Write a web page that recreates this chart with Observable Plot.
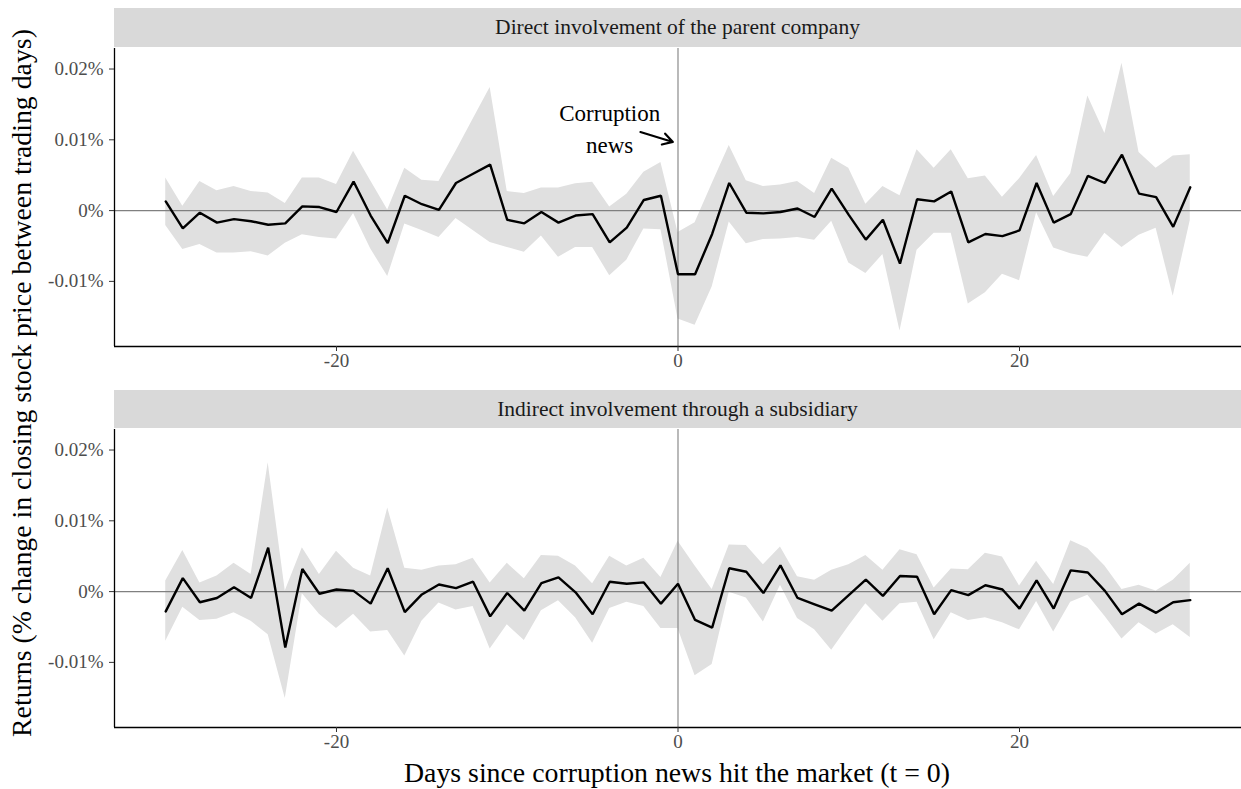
<!DOCTYPE html>
<html>
<head>
<meta charset="utf-8">
<script src="https://cdn.jsdelivr.net/npm/d3@7"></script>
<script src="https://cdn.jsdelivr.net/npm/@observablehq/plot@0.6"></script>
<style>
  html, body { margin: 0; padding: 0; background: #ffffff; }
  #wrap { position: relative; width: 1241px; height: 789px; font-family: "Liberation Serif", "DejaVu Serif", serif; color: #000; }
  .strip { position: absolute; left: 114px; width: 1127px; background: #d9d9d9; color: #1a1a1a;
           font-size: 21.5px; display: flex; align-items: center; justify-content: center; }
  .panel { position: absolute; left: 0; }
  #ytitle { position: absolute; left: 22px; top: 383px; transform: translate(-50%, -50%) rotate(-90deg);
            white-space: nowrap; font-size: 27.8px; }
  #xtitle { position: absolute; left: 677px; top: 773px; transform: translate(-50%, -50%);
            white-space: nowrap; font-size: 27.8px; }
</style>
</head>
<body>
<div id="wrap">
  <div class="strip" id="strip1" style="top:8px;height:39px;"></div>
  <div class="panel" id="panel1" style="top:48px;"></div>
  <div class="strip" id="strip2" style="top:390px;height:38px;"></div>
  <div class="panel" id="panel2" style="top:429px;"></div>
  <div id="ytitle"></div>
  <div id="xtitle"></div>
</div>
<script>
// Trading days relative to the news date
const days = [-30,-29,-28,-27,-26,-25,-24,-23,-22,-21,-20,-19,-18,-17,-16,-15,-14,-13,-12,-11,
  -10,-9,-8,-7,-6,-5,-4,-3,-2,-1,0,1,2,3,4,5,6,7,8,9,10,11,12,13,14,15,16,17,18,19,20,
  21,22,23,24,25,26,27,28,29,30];

// Facet titles
const panelTitles = ["Direct involvement of the parent company", "Indirect involvement through a subsidiary"];

// Direct involvement: estimated return (%) and interval bounds (%)
const directEst = [0.0013,-0.0025,-0.0003,-0.0017,-0.0012,-0.0015,-0.0020,-0.0018,0.0006,0.0005,
  -0.0002,0.0041,-0.0007,-0.0046,0.0021,0.0009,0.0001,0.0039,0.0052,0.0065,
  -0.0013,-0.0018,-0.0002,-0.0017,-0.0007,-0.0005,-0.0045,-0.0024,0.0015,0.0021,
  -0.0090,-0.0090,-0.0033,0.0039,-0.0003,-0.0004,-0.0002,0.0003,-0.0009,0.0031,
  -0.0006,-0.0041,-0.0013,-0.0075,0.0016,0.0013,0.0027,-0.0045,-0.0033,-0.0036,
  -0.0028,0.0039,-0.0017,-0.0005,0.0049,0.0039,0.0079,0.0024,0.0019,-0.0023,0.0033];
const directHi = [0.0046,0.0006,0.0041,0.0028,0.0034,0.0027,0.0025,0.0010,0.0046,0.0046,
  0.0037,0.0084,0.0042,0.0001,0.0060,0.0043,0.0041,0.0084,0.0129,0.0174,
  0.0027,0.0024,0.0032,0.0032,0.0038,0.0040,0.0005,0.0023,0.0054,0.0068,
  -0.0031,-0.0017,0.0038,0.0092,0.0042,0.0034,0.0036,0.0041,0.0024,0.0074,
  0.0060,0.0009,0.0034,0.0021,0.0086,0.0060,0.0086,0.0045,0.0049,0.0019,
  0.0045,0.0078,0.0020,0.0052,0.0162,0.0109,0.0208,0.0082,0.0060,0.0077,0.0079];
const directLo = [-0.0021,-0.0055,-0.0048,-0.0060,-0.0060,-0.0058,-0.0064,-0.0046,-0.0034,-0.0038,
  -0.0040,-0.0004,-0.0054,-0.0093,-0.0019,-0.0028,-0.0038,-0.0011,-0.0028,-0.0045,
  -0.0052,-0.0059,-0.0036,-0.0066,-0.0052,-0.0052,-0.0092,-0.0070,-0.0026,-0.0027,
  -0.0153,-0.0162,-0.0108,-0.0016,-0.0047,-0.0041,-0.0040,-0.0038,-0.0042,-0.0015,
  -0.0074,-0.0089,-0.0062,-0.0170,-0.0056,-0.0032,-0.0032,-0.0132,-0.0116,-0.0090,
  -0.0099,-0.0003,-0.0053,-0.0061,-0.0066,-0.0032,-0.0052,-0.0035,-0.0025,-0.0121,-0.0014];

// Indirect involvement: estimated return (%) and interval bounds (%)
const indirectEst = [-0.0028,0.0019,-0.0015,-0.0009,0.0006,-0.0009,0.0062,-0.0079,0.0032,-0.0003,
  0.0003,0.0001,-0.0017,0.0033,-0.0029,-0.0004,0.0010,0.0005,0.0014,-0.0035,
  -0.0002,-0.0027,0.0012,0.0020,-0.0001,-0.0032,0.0014,0.0011,0.0013,-0.0017,
  0.0011,-0.0040,-0.0051,0.0033,0.0028,-0.0002,0.0037,-0.0009,-0.0018,-0.0027,
  -0.0005,0.0017,-0.0006,0.0022,0.0021,-0.0032,0.0002,-0.0005,0.0009,0.0003,
  -0.0024,0.0016,-0.0024,0.0030,0.0027,0.0001,-0.0032,-0.0017,-0.0030,-0.0015,-0.0012];
const indirectHi = [0.0015,0.0058,0.0012,0.0022,0.0040,0.0024,0.0182,0.0001,0.0062,0.0024,
  0.0057,0.0033,0.0022,0.0118,0.0033,0.0030,0.0036,0.0038,0.0047,0.0012,
  0.0040,0.0018,0.0051,0.0050,0.0036,0.0011,0.0050,0.0036,0.0047,0.0020,
  0.0071,0.0036,0.0003,0.0066,0.0065,0.0038,0.0063,0.0021,0.0016,0.0030,
  0.0038,0.0051,0.0030,0.0059,0.0052,0.0005,0.0032,0.0031,0.0054,0.0049,
  0.0008,0.0043,0.0010,0.0072,0.0061,0.0036,0.0003,0.0009,0.0001,0.0016,0.0040];
const indirectLo = [-0.0070,-0.0022,-0.0041,-0.0039,-0.0030,-0.0042,-0.0061,-0.0151,-0.0003,-0.0032,
  -0.0052,-0.0032,-0.0057,-0.0055,-0.0091,-0.0042,-0.0016,-0.0026,-0.0021,-0.0081,
  -0.0047,-0.0069,-0.0027,-0.0013,-0.0037,-0.0073,-0.0024,-0.0015,-0.0021,-0.0052,
  -0.0052,-0.0119,-0.0103,-0.0001,-0.0009,-0.0043,0.0009,-0.0038,-0.0054,-0.0083,
  -0.0049,-0.0017,-0.0042,-0.0017,-0.0015,-0.0068,-0.0030,-0.0041,-0.0037,-0.0044,
  -0.0054,-0.0014,-0.0057,-0.0015,-0.0005,-0.0035,-0.0067,-0.0044,-0.0060,-0.0047,-0.0065];

// Axis ticks and scale extents
const xTicks = [-20, 0, 20];
const yTicks = [-0.01, 0, 0.01, 0.02];
const xDomain = [-33, 33];
const yDomain = [-0.0192, 0.0229];

// Annotation for the event date (top panel)
const noteText = ["Corruption\nnews"];
const noteX = -4.0, noteY = 0.0118;
const arrowFrom = [-2.2, 0.0111], arrowTo = [-0.3, 0.0097];

const xTitle = "Days since corruption news hit the market (t = 0)";
const yTitle = "Returns (% change in closing stock price between trading days)";

const serif = '"Liberation Serif", "DejaVu Serif", serif';

function panel(est, hi, lo, withNote) {
  const rows = days.map((d, i) => ({day: d, est: est[i], hi: hi[i], lo: lo[i]}));
  const marks = [
    Plot.areaY(rows, {x: "day", y1: "lo", y2: "hi", fill: "#e0e0e0"}),
    Plot.ruleY([0], {stroke: "#808080", strokeWidth: 1.1}),
    Plot.ruleX([0], {stroke: "#808080", strokeWidth: 1.1}),
    Plot.lineY(rows, {x: "day", y: "est", stroke: "#000", strokeWidth: 2.4, strokeLinejoin: "miter"}),
    Plot.ruleX([xDomain[0]], {stroke: "#000", strokeWidth: 1.3}),
    Plot.ruleY([yDomain[0]], {stroke: "#000", strokeWidth: 1.3}),
    Plot.axisX({ticks: xTicks, tickFormat: d => String(d), tickSize: 5, tickPadding: 2,
                stroke: "#333", fill: "#4d4d4d", label: null, fontSize: 19}),
    Plot.axisY({ticks: yTicks, tickFormat: d => (d === 0 ? "0%" : `${d}%`), tickSize: 5, tickPadding: 6,
                stroke: "#333", fill: "#4d4d4d", label: null, fontSize: 19})
  ];
  if (withNote) {
    marks.push(
      Plot.text(noteText, {x: noteX, y: noteY, text: d => d, fontSize: 23, lineHeight: 1.4,
                           fill: "#000", textAnchor: "middle"}),
      Plot.arrow([0], {x1: arrowFrom[0], y1: arrowFrom[1], x2: arrowTo[0], y2: arrowTo[1],
                       stroke: "#000", strokeWidth: 2.2, headLength: 12, bend: 0})
    );
  }
  return Plot.plot({
    width: 1241, height: 328,
    marginLeft: 114, marginRight: 0, marginTop: 0, marginBottom: 30,
    x: {domain: xDomain},
    y: {domain: yDomain},
    style: {fontFamily: serif, fontSize: "19px", background: "transparent", overflow: "visible"},
    marks
  });
}

document.getElementById("strip1").textContent = panelTitles[0];
document.getElementById("strip2").textContent = panelTitles[1];
document.getElementById("panel1").appendChild(panel(directEst, directHi, directLo, true));
document.getElementById("panel2").appendChild(panel(indirectEst, indirectHi, indirectLo, false));
document.getElementById("xtitle").textContent = xTitle;
document.getElementById("ytitle").textContent = yTitle;
</script>
</body>
</html>
